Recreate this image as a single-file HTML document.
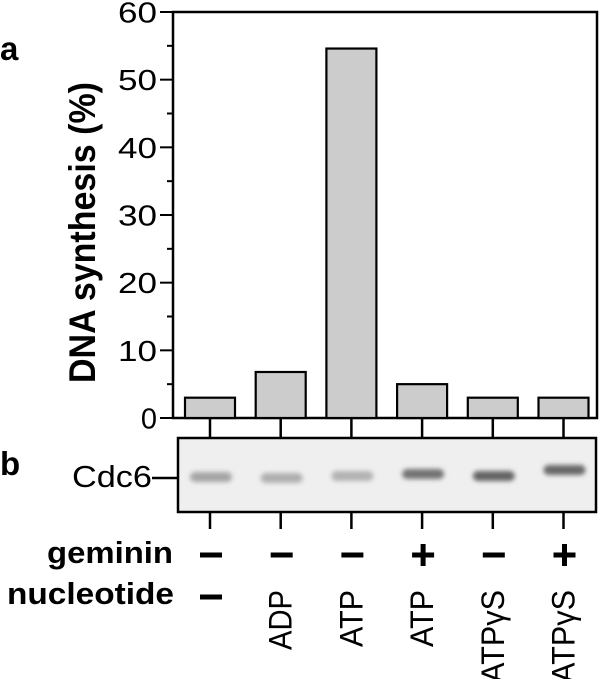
<!DOCTYPE html>
<html><head><meta charset="utf-8"><style>
html,body{margin:0;padding:0;background:#fff;width:600px;height:679px;overflow:hidden}
text{font-family:"Liberation Sans",Arial,sans-serif;fill:#000}
</style></head><body>
<svg id="fig" width="600" height="679" viewBox="0 0 600 679" xmlns="http://www.w3.org/2000/svg">
<defs>
<filter id="blur" x="-50%" y="-100%" width="200%" height="300%"><feGaussianBlur stdDeviation="2.4"/></filter>
</defs>
<text x="0" y="60" font-size="33" font-weight="bold">a</text>
<text x="0" y="475" font-size="33" font-weight="bold">b</text>
<text transform="translate(95,383) rotate(-90)" font-size="37" font-weight="bold" textLength="301" lengthAdjust="spacingAndGlyphs">DNA synthesis  (%)</text>
<g id="chart"></g>
<g id="gel">
<rect x="178" y="438" width="418" height="74" fill="#efefef" stroke="#000" stroke-width="2.5"/>
</g>
<text x="72" y="487" font-size="31" textLength="80" lengthAdjust="spacingAndGlyphs">Cdc6</text>
<line x1="152" y1="478" x2="178" y2="478" stroke="#000" stroke-width="2.5"/>
<text x="47" y="563" font-size="31" font-weight="bold" textLength="126" lengthAdjust="spacingAndGlyphs">geminin</text>
<text x="7" y="604" font-size="31" font-weight="bold" textLength="167" lengthAdjust="spacingAndGlyphs">nucleotide</text>
<g id="conds"></g>
</svg>
<script>
const categories = ["1","2","3","4","5","6"];
const values = [3.0, 6.8, 54.6, 5.0, 3.0, 3.0];
const yTicks = [0,10,20,30,40,50,60];
const bandIntensity = [0.42, 0.36, 0.34, 0.72, 0.8, 0.78];
const gemininLabels = ["–","–","–","+","–","+"];
const nucleotideLabels = ["–","ADP","ATP","ATP","ATPγS","ATPγS"];

const NS = "http://www.w3.org/2000/svg";
const X0 = 173, X1 = 597, Y0 = 418, Y1 = 12, YMAX = 60;
function yScale(v){ return Y0 - (v / YMAX) * (Y0 - Y1); }
function xCenter(i){ return 210 + i * 70.7; }
function mk(tag, attrs, parent){ const e = document.createElementNS(NS, tag); for (const k in attrs) e.setAttribute(k, attrs[k]); parent.appendChild(e); return e; }

const chart = document.getElementById('chart');
const frame = mk('rect', {x:X0, y:Y1, width:X1-X0, height:Y0-Y1, fill:'none', stroke:'#000', 'stroke-width':2.5}, chart);


for (let v = 0; v <= YMAX; v += 5) {
  const major = v % 10 === 0;
  const t = mk('line', {x1: major ? 160 : 167, x2: X0, y1: yScale(v), y2: yScale(v), stroke:'#000', 'stroke-width':2}, chart);
  
  
}
yTicks.forEach(v => {
  const s = String(v);
  const attrs = {x:157, y:yScale(v) + 10.5, 'font-size':29, 'text-anchor':'end'};
  if (s.length === 2) { attrs.textLength = 39; attrs.lengthAdjust = 'spacingAndGlyphs'; }
  const tx = mk('text', attrs, chart);
  tx.textContent = s;
  
  
});
values.forEach((v, i) => {
  const cx = xCenter(i);
  const b = mk('rect', {x: cx - 25, y: yScale(v), width: 50, height: Y0 - yScale(v), fill:'#cccccc', stroke:'#000', 'stroke-width':2.2}, chart);
  
  
  const t1 = mk('line', {x1:cx, x2:cx, y1:Y0, y2:438, stroke:'#000', 'stroke-width':2.5}, chart);
  
  
  const t2 = mk('line', {x1:cx, x2:cx, y1:512, y2:529, stroke:'#000', 'stroke-width':2.5}, chart);
  
  
});
const gel = document.getElementById('gel');
const bandY = [477, 478, 476, 474, 476, 470];
bandIntensity.forEach((a, i) => {
  const g = Math.round(236 - a * 170);
  const band = mk('rect', {x: xCenter(i) - 20, y: bandY[i] - 5, width: 42, height: 10, rx: 5, fill: `rgb(${g},${g},${g})`, filter:'url(#blur)'}, gel);
  
  
});
const conds = document.getElementById('conds');
function sign(s, cx, cy, name){
  const t = mk('text', {x: cx, y: cy + 6, 'font-size':2, 'text-anchor':'middle', fill:'#000', 'fill-opacity':0}, conds);
  t.textContent = s;
  
  
  const h = mk('rect', {x: cx - 11, y: cy - 2.5, width: 22, height: 5, fill:'#000'}, conds);
  
  
  if (s === '+') {
    const vb = mk('rect', {x: cx - 2.5, y: cy - 11, width: 5, height: 22, fill:'#000'}, conds);
    
    
  }
}
gemininLabels.forEach((s, i) => {
  sign(s, xCenter(i) + 1, 555, 'geminin-value');
});
nucleotideLabels.forEach((s, i) => {
  if (s === "–") {
    sign(s, xCenter(i) + 1, 597, 'nucleotide-value');
  } else {
    const cx = xCenter(i) + 11;
    const len = s.length === 3 ? (s === "ADP" ? 60 : 57) : 93;
    const t = mk('text', {transform: `translate(${cx},${590 + len}) rotate(-90)`, 'font-size':32, 'text-anchor':'start', textLength: len, lengthAdjust:'spacingAndGlyphs'}, conds);
    t.textContent = s;
    
    
  }
});
</script>
</body></html>
